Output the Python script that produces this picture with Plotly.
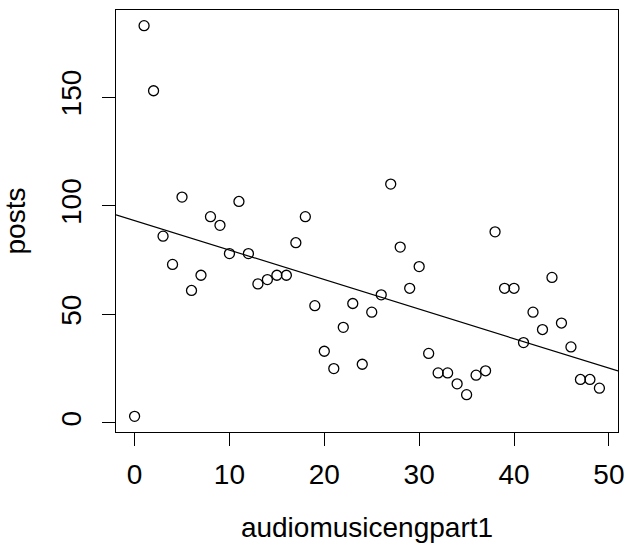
import numpy as np
import plotly.graph_objects as go

x_vals = list(range(50))
posts = [3, 183, 153, 86, 73, 104, 61, 68, 95, 91,
         78, 102, 78, 64, 66, 68, 68, 83, 95, 54,
         33, 25, 44, 55, 27, 51, 59, 110, 81, 62,
         72, 32, 23, 23, 18, 13, 22, 24, 88, 62,
         62, 37, 51, 43, 67, 46, 35, 20, 20, 16]
x_ticks = [0, 10, 20, 30, 40, 50]
y_ticks = [0, 50, 100, 150]

xa = np.array(x_vals, dtype=float)
ya = np.array(posts, dtype=float)
slope, intercept = np.polyfit(xa, ya, 1)

# R-style 4% axis expansion
xr = [xa.min() - 0.04 * (xa.max() - xa.min()), xa.max() + 0.04 * (xa.max() - xa.min())]
yr = [ya.min() - 0.04 * (ya.max() - ya.min()), ya.max() + 0.04 * (ya.max() - ya.min())]

FONT = "Liberation Sans"
FS = 28

fig = go.Figure()
fig.add_trace(go.Scatter(
    x=[xr[0], xr[1]], y=[intercept + slope * xr[0], intercept + slope * xr[1]],
    mode="lines", line=dict(color="black", width=1.2), hoverinfo="skip",
    showlegend=False))
fig.add_trace(go.Scatter(
    x=x_vals, y=posts, mode="markers",
    marker=dict(symbol="circle-open", size=10, color="black", line=dict(width=1.3)),
    showlegend=False))

fig.update_layout(
    width=633, height=546,
    margin=dict(l=116, r=11, t=9, b=114),
    plot_bgcolor="white", paper_bgcolor="white",
    font=dict(family=FONT, size=FS, color="black"),
    xaxis=dict(range=xr, tickvals=x_ticks, ticktext=[str(v) for v in x_ticks],
               showgrid=False, zeroline=False, showline=True, linecolor="black",
               linewidth=1.3, mirror=True, ticks="outside", ticklen=13, tickwidth=1.3,
               tickcolor="black", tickfont=dict(size=FS, family=FONT),
               ticklabelstandoff=4,
               title=dict(text="audiomusicengpart1", font=dict(size=FS, family=FONT), standoff=28)),
    yaxis=dict(range=yr, tickvals=y_ticks, ticktext=[str(v) for v in y_ticks],
               showgrid=False, zeroline=False, showline=True, linecolor="black",
               linewidth=1.3, mirror=True, ticks="outside", ticklen=13, tickwidth=1.3,
               tickcolor="black", tickangle=-90, tickfont=dict(size=FS, family=FONT),
               ticklabelstandoff=10,
               title=dict(text="posts", font=dict(size=FS, family=FONT), standoff=22)),
)
fig.write_html("out.html")
